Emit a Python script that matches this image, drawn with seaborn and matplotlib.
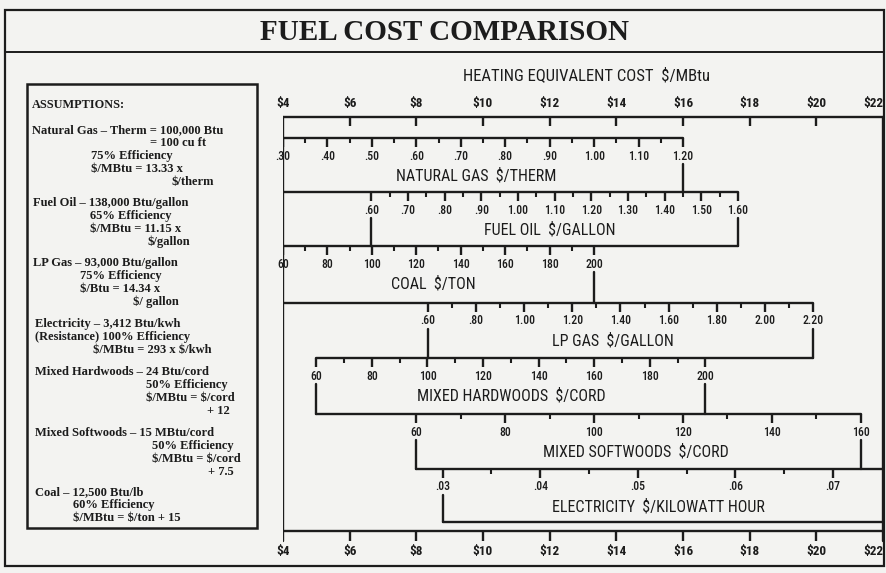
import matplotlib
matplotlib.use("Agg")
import numpy as np
import pandas as pd
import matplotlib.pyplot as plt
import seaborn as sns
from matplotlib import font_manager
from matplotlib.patches import Rectangle

# heating equivalent cost axis ($/MBtu)
mbtu_ticks = [4, 6, 8, 10, 12, 14, 16, 18, 20, 22]

# each fuel scale: labelled ticks, small ticks, and two anchors (fuel price -> $/MBtu)
ng_major = [.30, .40, .50, .60, .70, .80, .90, 1.00, 1.10, 1.20]
ng_minor = [.35, .45, .55, .65, .75, .85, .95, 1.05, 1.15]
ng_anchor = [(.30, 4.0), (1.20, 16.0)]

fo_major = [.60, .70, .80, .90, 1.00, 1.10, 1.20, 1.30, 1.40, 1.50, 1.60]
fo_minor = [.65, .75, .85, .95, 1.05, 1.15, 1.25, 1.35, 1.45, 1.55]
fo_anchor = [(.60, 6.65), (1.60, 17.65)]

coal_major = [60, 80, 100, 120, 140, 160, 180, 200]
coal_minor = [70, 90, 110, 130, 150, 170, 190]
coal_anchor = [(60, 4.0), (200, 13.33)]

lp_major = [.60, .80, 1.00, 1.20, 1.40, 1.60, 1.80, 2.00, 2.20]
lp_minor = [.70, .90, 1.10, 1.30, 1.50, 1.70, 1.90, 2.10]
lp_anchor = [(.60, 8.35), (2.20, 19.9)]

hw_major = [60, 80, 100, 120, 140, 160, 180, 200]
hw_minor = [70, 90, 110, 130, 150, 170, 190]
hw_anchor = [(60, 5.0), (200, 16.67)]

sw_major = [60, 80, 100, 120, 140, 160]
sw_minor = [70, 90, 110, 130, 150]
sw_anchor = [(60, 8.0), (160, 21.33)]

el_major = [.03, .04, .05, .06, .07]
el_minor = [.035, .045, .055, .065]
el_anchor = [(.03, 8.79), (.07, 20.5)]

scale_names = ["NATURAL GAS  $/THERM", "FUEL OIL  $/GALLON", "COAL  $/TON", "LP GAS  $/GALLON",
               "MIXED HARDWOODS  $/CORD", "MIXED SOFTWOODS  $/CORD", "ELECTRICITY  $/KILOWATT HOUR"]

assumptions = [
    ("Natural Gas \u2013 Therm = 100,000 Btu", 32, 130),
    ("= 100 cu ft", 150, 143),
    ("75% Efficiency", 91, 156),
    ("$/MBtu = 13.33 x", 91, 169),
    ("$/therm", 172, 182),
    ("Fuel Oil \u2013 138,000 Btu/gallon", 33, 203),
    ("65% Efficiency", 90, 216),
    ("$/MBtu = 11.15 x", 90, 229),
    ("$/gallon", 148, 242),
    ("LP Gas \u2013 93,000 Btu/gallon", 33, 263),
    ("75% Efficiency", 80, 276),
    ("$/Btu = 14.34 x", 80, 289),
    ("$/ gallon", 133, 302),
    ("Electricity \u2013 3,412 Btu/kwh", 35, 324),
    ("(Resistance) 100% Efficiency", 35, 337),
    ("$/MBtu = 293 x $/kwh", 93, 350),
    ("Mixed Hardwoods \u2013 24 Btu/cord", 35, 372),
    ("50% Efficiency", 146, 385),
    ("$/MBtu = $/cord", 146, 398),
    ("+ 12", 207, 411),
    ("Mixed Softwoods \u2013 15 MBtu/cord", 35, 433),
    ("50% Efficiency", 152, 446),
    ("$/MBtu = $/cord", 152, 459),
    ("+ 7.5", 208, 472),
    ("Coal \u2013 12,500 Btu/lb", 35, 492),
    ("60% Efficiency", 73, 505),
    ("$/MBtu = $/ton + 15", 73, 518),
]

bg = "#f3f3f1"
ink = "#1c1c1c"

sns.set_theme(style="white", rc={"figure.facecolor": bg, "axes.facecolor": bg})

# pick a condensed sans for the nomogram lettering
ttf = font_manager.fontManager.ttflist
names = {f.name for f in ttf}
narrow, stretch = None, "normal"
for cand in ["Liberation Sans Narrow", "Roboto Condensed", "Open Sans Condensed"]:
    if cand in names:
        narrow = cand
        break
if narrow is None:
    if any(f.name == "DejaVu Sans" and "condensed" in str(f.stretch) for f in ttf):
        narrow, stretch = "DejaVu Sans", "condensed"
    else:
        narrow = "Roboto"
serif = "Liberation Serif"
plt.rcParams["font.family"] = [narrow, "DejaVu Sans"]
plt.rcParams["text.parse_math"] = False


def to_mbtu(v, anchor):
    (v0, m0), (v1, m1) = anchor
    return m0 + (v - v0) * (m1 - m0) / (v1 - v0)


def fmt(v):
    if v >= 10:
        return str(int(round(v)))
    s = f"{v:.2f}"
    return s[1:] if s.startswith("0") else s


fig = plt.figure(figsize=(8.87, 5.73), dpi=100)

# page-level axes in pixel units
pg = fig.add_axes([0, 0, 1, 1])
pg.set_xlim(0, 887)
pg.set_ylim(573, 0)
pg.axis("off")
pg.add_patch(Rectangle((5, 10), 879, 556, fill=False, lw=1.6, ec=ink))
pg.plot([5, 884], [52, 52], color=ink, lw=1.4)
pg.text(445, 32, "FUEL COST COMPARISON", family=serif, weight="bold", fontsize=21,
        ha="center", va="center", color=ink)

pg.add_patch(Rectangle((27, 84), 230, 444, fill=False, lw=1.8, ec=ink))
pg.text(32, 105, "ASSUMPTIONS:", family=serif, weight="bold", fontsize=8.8, va="center", color=ink)
for txt, x, y in assumptions:
    pg.text(x, y, txt, family=serif, weight="bold", fontsize=9, va="center", color=ink)

# nomogram axes: x in $/MBtu, y in pixels
x0_px, x1_px = 283, 883
ax = fig.add_axes([x0_px / 887, 0, (x1_px - x0_px) / 887, 1])
ax.set_xlim(mbtu_ticks[0], mbtu_ticks[-1])
ax.set_ylim(573, 0)
ax.axis("off")

scales = [(ng_major, ng_minor, ng_anchor), (fo_major, fo_minor, fo_anchor),
          (coal_major, coal_minor, coal_anchor), (lp_major, lp_minor, lp_anchor),
          (hw_major, hw_minor, hw_anchor), (sw_major, sw_minor, sw_anchor),
          (el_major, el_minor, el_anchor)]
row_y = [138, 192, 246, 303, 358, 414, 469]
name_x = [9.8, 12.0, 8.5, 13.9, 10.85, 14.6, 15.25]
top_y, el_bottom_y, bot_y = 117, 522, 531
lo, hi = mbtu_ticks[0], mbtu_ticks[-1]

# frame rules, collected then drawn with seaborn
rules = []


def add_rule(xs, ys):
    rid = len(rules)
    for x, y in zip(xs, ys):
        rules.append({"x": x, "y": y, "rule": rid})


add_rule([lo, hi], [top_y, top_y])
add_rule([lo, hi], [bot_y, bot_y])
add_rule([lo, lo], [top_y, bot_y + 10])
add_rule([hi, hi], [top_y, bot_y + 10])

ends = [(to_mbtu(m[0], a), to_mbtu(m[-1], a)) for m, _, a in scales]
n = len(scales)
for i, (major, minor, anchor) in enumerate(scales):
    y = row_y[i]
    s, e = ends[i]
    if i == 0:
        left, right = s, e
    else:
        left, right = min(ends[i - 1][0], s), max(ends[i - 1][1], e)
    if i == n - 1:
        right = hi
    add_rule([left, right], [y, y])
    y_next = row_y[i + 1] if i < n - 1 else el_bottom_y
    # long connector ticks at the scale ends (broken where the label sits)
    for k, xv in enumerate((s, e)):
        if xv <= lo + 0.01 or (i == n - 1 and k == 1):
            continue
        add_rule([xv, xv], [y + 26, y_next])
    xs_major = [to_mbtu(v, anchor) for v in major]
    xs_minor = [to_mbtu(v, anchor) for v in minor]
    ax.vlines(xs_major, y, y + 9, color=ink, lw=1.7)
    ax.vlines(xs_minor, y, y + 5, color=ink, lw=1.5)
    for v, xv in zip(major, xs_major):
        ax.text(xv, y + 18, fmt(v), ha="center", va="center", fontsize=8.5,
                weight="medium", stretch=stretch, color=ink, clip_on=False)
    ax.text(name_x[i], y + 38, scale_names[i], ha="center", va="center", fontsize=11.5,
            stretch=stretch, color=ink)

add_rule([ends[-1][0], hi], [el_bottom_y, el_bottom_y])

rules_df = pd.DataFrame(rules)
sns.lineplot(data=rules_df, x="x", y="y", units="rule", estimator=None, sort=False,
             color=ink, lw=1.7, ax=ax, legend=False)
ax.set_xlim(lo, hi)
ax.set_ylim(573, 0)
ax.axis("off")

# $/MBtu ticks top and bottom
inner = mbtu_ticks[1:-1]
ax.vlines(inner, top_y, top_y + 9, color=ink, lw=1.7)
ax.vlines(inner, bot_y, bot_y + 10, color=ink, lw=1.7)
for v in mbtu_ticks:
    # the last label is pulled inside the frame, as in the print
    xl = v - 0.3 if v == hi else v
    ax.text(xl, 103, f"${v}", ha="center", va="center", fontsize=9.5, weight="bold",
            stretch=stretch, color=ink, clip_on=False)
    ax.text(xl, 551, f"${v}", ha="center", va="center", fontsize=9.5, weight="bold",
            stretch=stretch, color=ink, clip_on=False)
ax.text(13.1, 75, "HEATING EQUIVALENT COST  $/MBtu", ha="center", va="center",
        fontsize=12, stretch=stretch, color=ink)

fig.savefig("out.png", dpi=100, facecolor=bg)
